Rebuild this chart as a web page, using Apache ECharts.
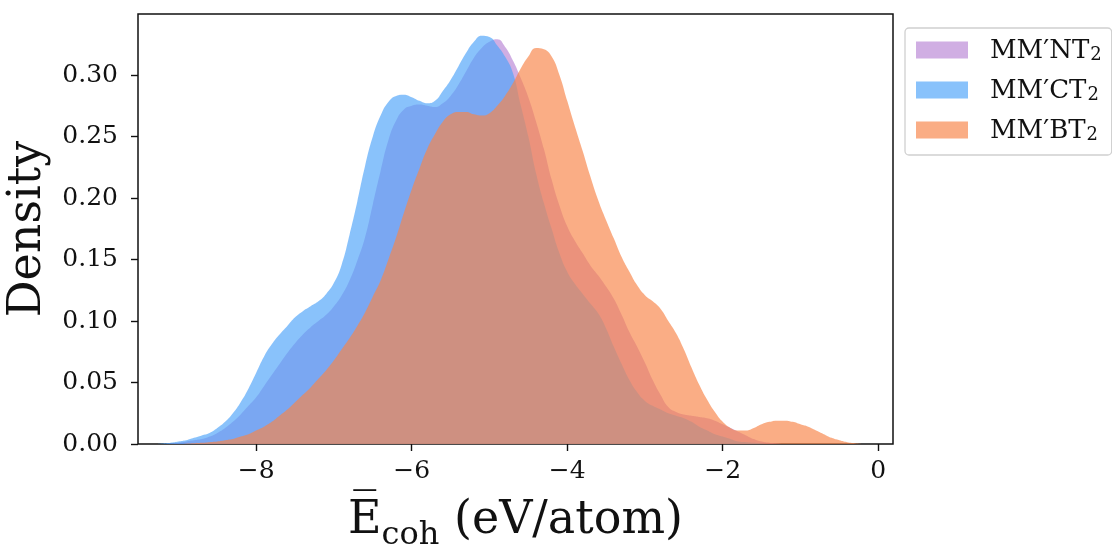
<!DOCTYPE html>
<html><head><meta charset="utf-8">
<script src="https://cdn.jsdelivr.net/npm/echarts@6/dist/echarts.min.js"></script>
<style>html,body{margin:0;padding:0;background:#fff}#c{width:1112px;height:550px}</style>
</head><body><div id="c"></div>
<script>
// x grid (eV/atom)
const energy = [
 -9.3,-9.2,-9.1,-9.0,-8.9,-8.8,-8.7,-8.6,-8.5,-8.4,
 -8.3,-8.2,-8.1,-8.0,-7.9,-7.8,-7.7,-7.6,-7.5,-7.4,
 -7.3,-7.2,-7.1,-7.0,-6.9,-6.8,-6.7,-6.6,-6.5,-6.4,
 -6.3,-6.2,-6.1,-6.0,-5.9,-5.8,-5.7,-5.6,-5.5,-5.4,
 -5.3,-5.2,-5.1,-5.0,-4.9,-4.8,-4.7,-4.6,-4.5,-4.4,
 -4.3,-4.2,-4.1,-4.0,-3.9,-3.8,-3.7,-3.6,-3.5,-3.4,
 -3.3,-3.2,-3.1,-3.0,-2.9,-2.8,-2.7,-2.6,-2.5,-2.4,
 -2.3,-2.2,-2.1,-2.0,-1.9,-1.8,-1.7,-1.6,-1.5,-1.4,
 -1.3,-1.2,-1.1,-1.0,-0.9,-0.8,-0.7,-0.6,-0.5,-0.4,
 -0.3,-0.2
];
const densityNT = [
 0,0,0.0005,0.001,0.002,0.003,0.004,0.006,0.009,0.013,
 0.018,0.024,0.031,0.038,0.047,0.056,0.065,0.074,0.082,0.089,
 0.095,0.100,0.105,0.112,0.121,0.133,0.149,0.168,0.195,0.222,
 0.247,0.263,0.272,0.275,0.276,0.275,0.274,0.277,0.283,0.292,
 0.303,0.314,0.322,0.327,0.329,0.323,0.312,0.298,0.282,0.262,
 0.240,0.215,0.194,0.177,0.165,0.155,0.145,0.137,0.128,0.118,
 0.105,0.091,0.079,0.066,0.052,0.040,0.030,0.026,0.024,0.023,
 0.022,0.021,0.019,0.016,0.013,0.010,0.007,0.004,0.002,0.001,
 0.0005,0,0,0,0,0,0,0,0,0,
 0,0
];
const densityCT = [
 0,0.0005,0.001,0.002,0.003,0.005,0.007,0.009,0.013,0.018,
 0.025,0.034,0.045,0.058,0.071,0.081,0.089,0.096,0.103,0.108,
 0.112,0.116,0.122,0.131,0.146,0.170,0.197,0.226,0.250,0.267,
 0.278,0.283,0.284,0.282,0.279,0.277,0.279,0.287,0.296,0.307,
 0.318,0.327,0.332,0.331,0.324,0.315,0.302,0.276,0.250,0.220,
 0.196,0.175,0.155,0.140,0.130,0.122,0.114,0.106,0.094,0.079,
 0.065,0.052,0.042,0.035,0.031,0.028,0.025,0.023,0.021,0.018,
 0.014,0.011,0.008,0.006,0.004,0.002,0.0015,0.001,0.0005,0,
 0,0,0,0,0,0,0,0,0,0,
 0,0
];
const densityBT = [
 0,0,0,0,0.0003,0.0006,0.001,0.0015,0.002,0.003,
 0.004,0.006,0.008,0.011,0.014,0.018,0.023,0.028,0.034,0.040,
 0.046,0.053,0.060,0.068,0.077,0.086,0.096,0.107,0.120,0.133,
 0.150,0.168,0.188,0.207,0.224,0.240,0.252,0.262,0.268,0.270,
 0.270,0.268,0.267,0.269,0.275,0.283,0.293,0.305,0.315,0.322,
 0.321,0.315,0.300,0.279,0.258,0.238,0.217,0.198,0.182,0.167,
 0.152,0.140,0.129,0.121,0.116,0.110,0.100,0.090,0.077,0.062,
 0.048,0.036,0.026,0.018,0.013,0.011,0.011,0.013,0.016,0.018,
 0.019,0.019,0.018,0.016,0.014,0.011,0.008,0.005,0.003,0.0015,
 0.0007,0
];
const seriesNames = ['MM\u2032NT2', 'MM\u2032CT2', 'MM\u2032BT2'];
const seriesColors = ['rgba(185,134,213,0.67)', 'rgba(79,164,249,0.67)', 'rgba(247,132,73,0.67)'];
const xTicks = [-8, -6, -4, -2, 0];
const yTicks = [0, 0.05, 0.10, 0.15, 0.20, 0.25, 0.30];

const FONT = 'DejaVu Serif';
const allDensities = [densityNT, densityCT, densityBT];

const chart = echarts.init(document.getElementById('c'), null, {renderer: 'canvas'});
chart.setOption({
  animation: false,
  backgroundColor: '#fff',
  grid: {left: 138, right: 219, top: 14, bottom: 106, outerBoundsMode: 'none', containLabel: false,
    show: true, borderColor: '#111', borderWidth: 1.5, backgroundColor: 'transparent'},
  legend: {
    orient: 'vertical', left: 905, top: 28,
    icon: 'rect', itemWidth: 52, itemHeight: 17, itemGap: 14,
    padding: [10, 10, 11, 11],
    borderColor: '#d0d0d0', borderWidth: 1.3, borderRadius: 4,
    data: seriesNames,
    formatter: n => '{m|' + n.slice(0, -1) + '}{s|' + n.slice(-1) + '}',
    textStyle: {
      fontFamily: FONT, color: '#111', padding: [0, 0, 0, 17],
      rich: {
        m: {fontFamily: FONT, fontSize: 26, color: '#111', lineHeight: 28, verticalAlign: 'bottom'},
        s: {fontFamily: FONT, fontSize: 18, color: '#111', lineHeight: 28, verticalAlign: 'bottom', padding: [0, 0, 0, 1]}
      }
    }
  },
  xAxis: {
    type: 'value', min: -9.52, max: 0.19,
    axisLine: {show: false, onZero: false},
    splitLine: {show: false},
    axisTick: {show: true, customValues: xTicks, length: 7, lineStyle: {color: '#111', width: 1.4}},
    axisLabel: {customValues: xTicks, margin: 15, fontFamily: FONT, fontSize: 25, color: '#111',
      formatter: v => (v < 0 ? '\u2212' + Math.abs(v) : String(v))},
    name: '{a|E\u0305}{b|coh}{a| (eV/atom)}',
    nameLocation: 'middle', nameGap: 48,
    nameTextStyle: {
      rich: {
        a: {fontFamily: FONT, fontSize: 46, color: '#111', lineHeight: 52, verticalAlign: 'bottom'},
        b: {fontFamily: FONT, fontSize: 32, color: '#111', lineHeight: 52, verticalAlign: 'bottom', padding: [0, 0, -8, 0]}
      }
    }
  },
  yAxis: {
    type: 'value', min: 0, max: 0.3496,
    axisLine: {show: false, onZero: false},
    splitLine: {show: false},
    axisTick: {show: true, customValues: yTicks, length: 7, lineStyle: {color: '#111', width: 1.4}},
    axisLabel: {customValues: yTicks, margin: 20, fontFamily: FONT, fontSize: 25, color: '#111',
      formatter: v => v.toFixed(2)},
    name: 'Density', nameLocation: 'middle', nameGap: 77,
    nameTextStyle: {fontFamily: FONT, fontSize: 46, color: '#111'}
  },
  series: seriesNames.map((name, k) => ({
    type: 'line', name: name,
    data: energy.map((x, i) => [x, allDensities[k][i]]),
    smooth: 0.5, symbol: 'none', showSymbol: false,
    itemStyle: {color: seriesColors[k]},
    lineStyle: {width: 0, color: seriesColors[k]},
    areaStyle: {color: seriesColors[k], opacity: 1}
  }))
});
</script></body></html>
